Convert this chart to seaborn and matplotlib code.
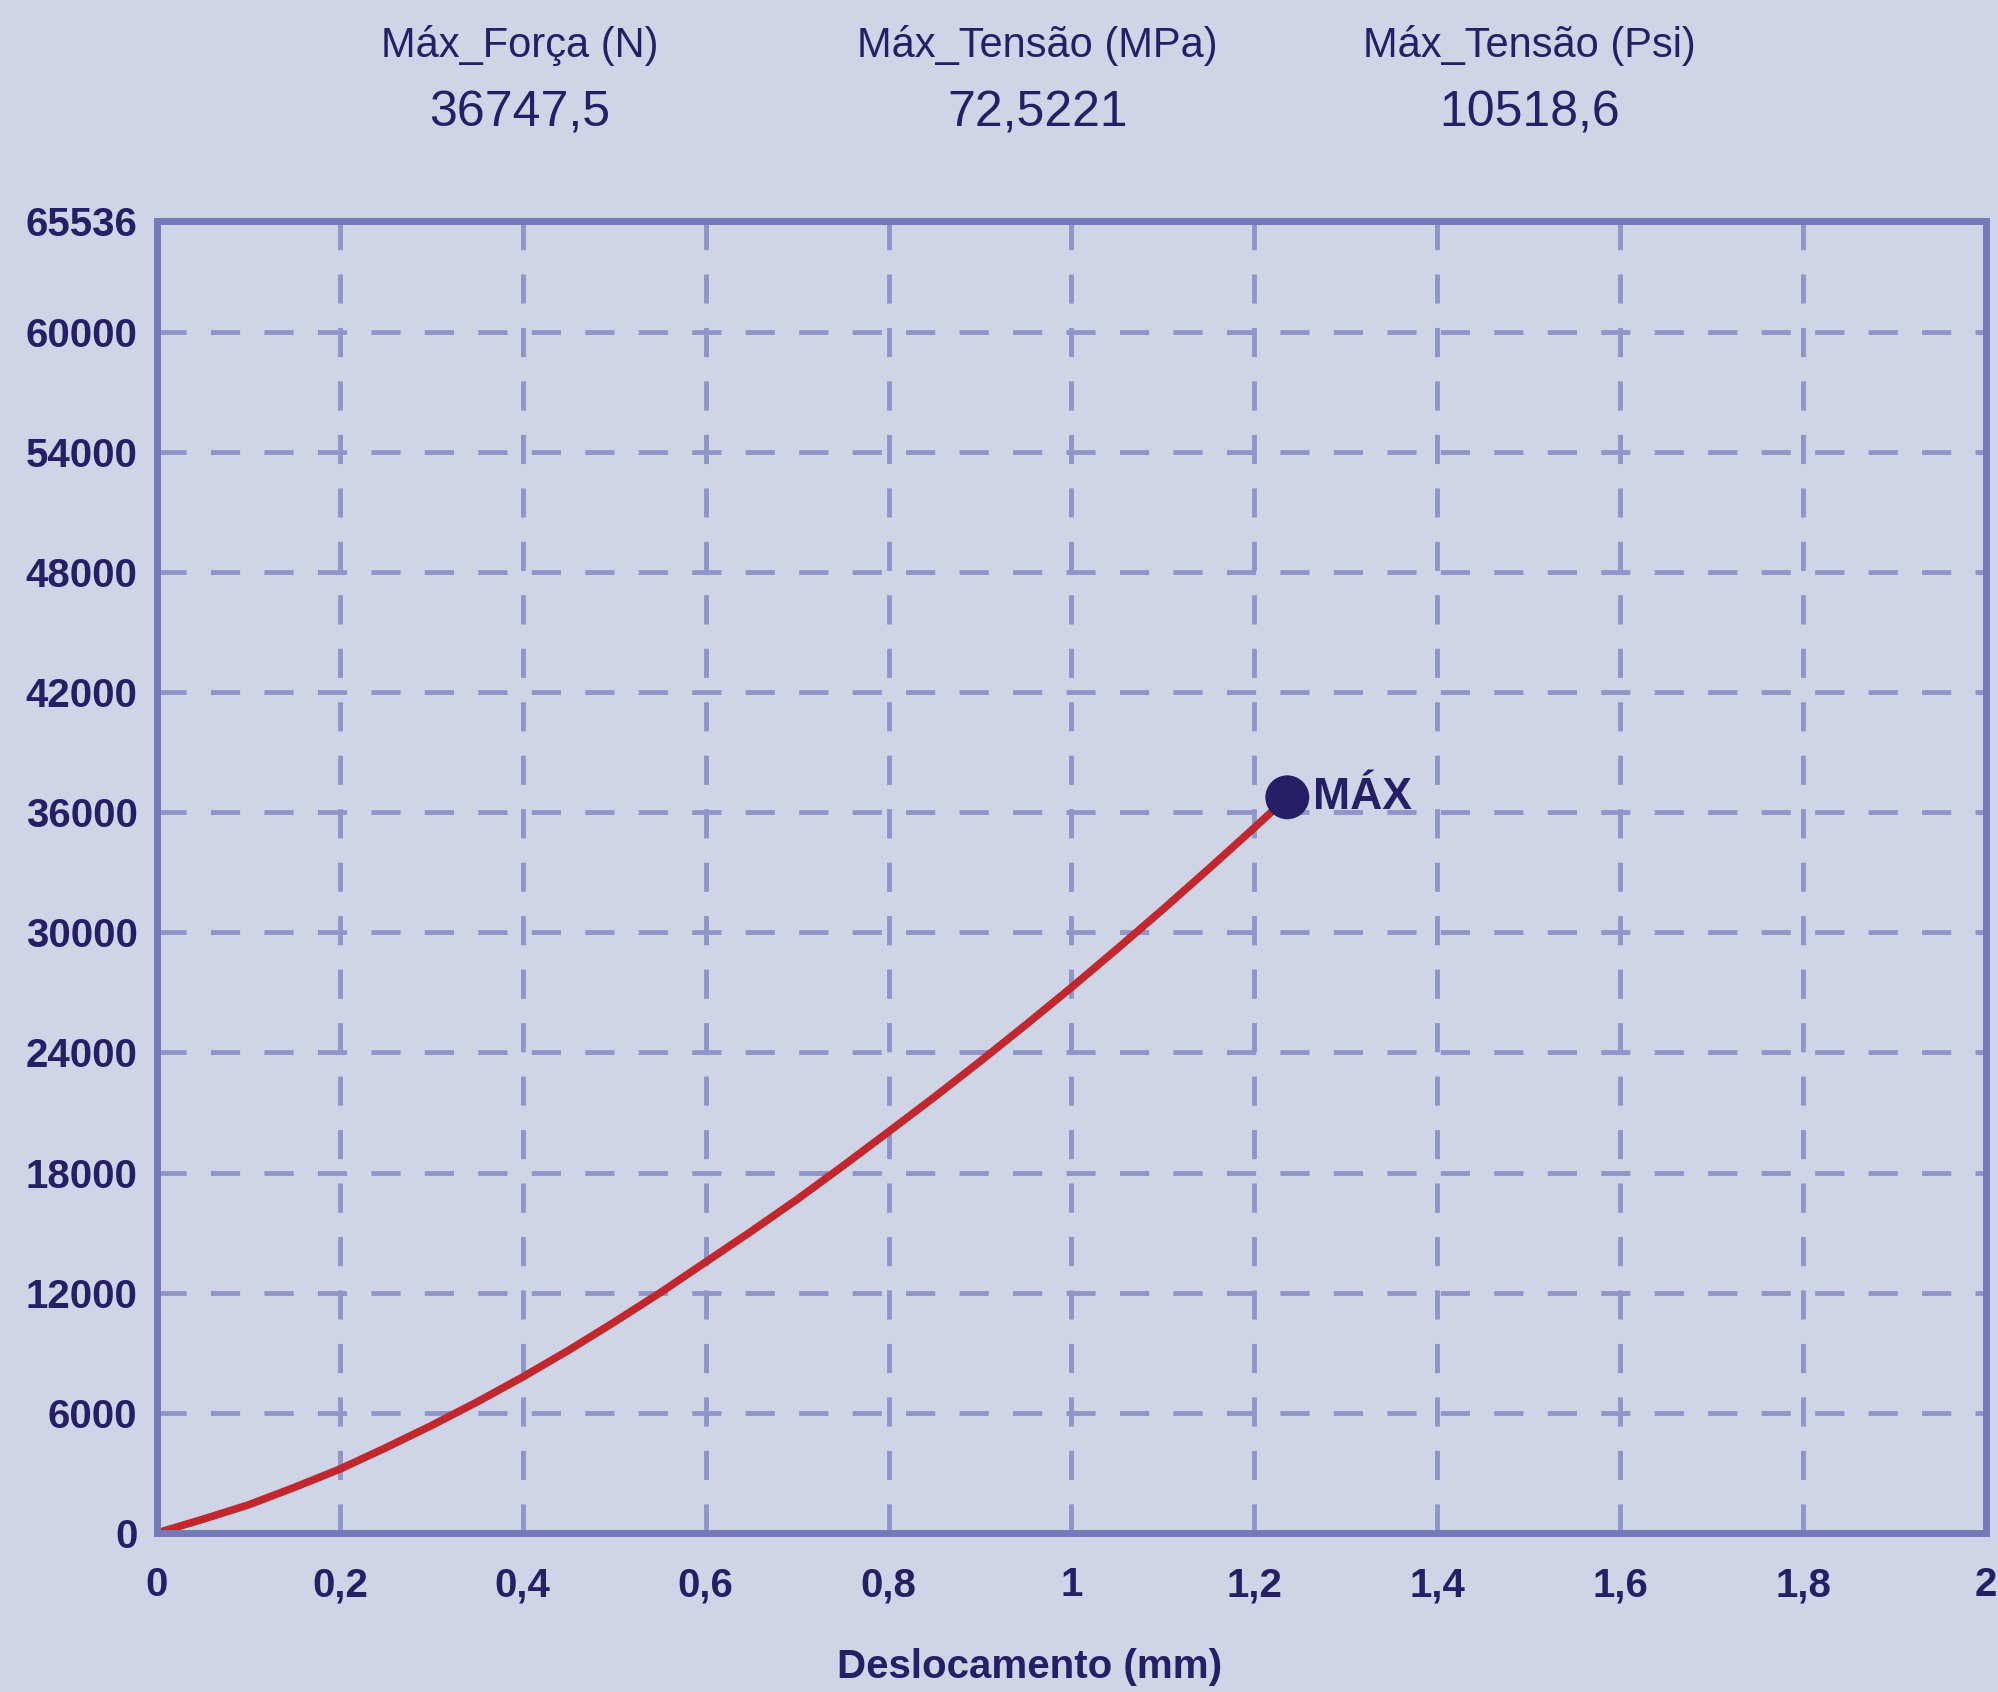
import numpy as np
import pandas as pd
import matplotlib
matplotlib.use("Agg")
import matplotlib.pyplot as plt
import seaborn as sns

# Curve (displacement mm, force N)
deslocamento = [0.0, 0.05, 0.1, 0.15, 0.2, 0.25, 0.3, 0.35, 0.4, 0.45, 0.5, 0.55, 0.6,
                0.65, 0.7, 0.75, 0.8, 0.85, 0.9, 0.95, 1.0, 1.05, 1.1, 1.15, 1.2, 1.236]
forca = [0, 680, 1400, 2270, 3190, 4250, 5360, 6540, 7790, 9120, 10530, 11990, 13530,
         15070, 16660, 18330, 20040, 21770, 23550, 25380, 27250, 29180, 31150, 33170, 35230, 36747.5]

max_x = 1.236
max_y = 36747.5

header_titles = ["Máx_Força (N)", "Máx_Tensão (MPa)", "Máx_Tensão (Psi)"]
header_values = ["36747,5", "72,5221", "10518,6"]

y_ticks = [0, 6000, 12000, 18000, 24000, 30000, 36000, 42000, 48000, 54000, 60000, 65536]
x_ticks = [0, 0.2, 0.4, 0.6, 0.8, 1.0, 1.2, 1.4, 1.6, 1.8, 2.0]
x_labels = ["0", "0,2", "0,4", "0,6", "0,8", "1", "1,2", "1,4", "1,6", "1,8", "2"]

bg = "#CFD4E6"
navy = "#271F66"
spine_col = "#7479B8"
grid_col = "#8F95C8"
red = "#C1272D"

sns.set_theme(style="white")
plt.rcParams["font.family"] = ["Liberation Sans Narrow", "Liberation Sans", "DejaVu Sans"]

df = pd.DataFrame({"x": deslocamento, "y": forca})

fig = plt.figure(figsize=(19.99, 16.92), dpi=100, facecolor=bg)
ax = fig.add_axes([0.0785, 0.094, 0.915, 0.7754])
ax.set_facecolor(bg)

sns.lineplot(data=df, x="x", y="y", ax=ax, color=red, linewidth=5.5, zorder=3)
sns.scatterplot(x=[max_x], y=[max_y], ax=ax, color=navy, s=1000, edgecolor="none", zorder=4)
ax.text(max_x + 0.028, max_y, "MÁX", color=navy, fontsize=32, fontweight="bold",
        va="center", ha="left")

ax.set_xlim(0, 2)
ax.set_ylim(0, 65536)
ax.set_xticks(x_ticks)
ax.set_xticklabels(x_labels)
ax.set_yticks(y_ticks)
ax.set_yticklabels([str(v) for v in y_ticks])
ax.tick_params(length=0, labelsize=29, labelcolor=navy)
ax.tick_params(axis="x", pad=24)
ax.tick_params(axis="y", pad=14)
for lab in ax.get_xticklabels() + ax.get_yticklabels():
    lab.set_fontweight("bold")

ax.grid(True, color=grid_col, linestyle=(0, (6, 5)), linewidth=3.5)
ax.set_axisbelow(True)
for s in ax.spines.values():
    s.set_visible(True)
    s.set_color(spine_col)
    s.set_linewidth(5)
    s.set_zorder(5)

ax.set_xlabel("Deslocamento (mm)", color=navy, fontsize=29, fontweight="bold")
ax.xaxis.set_label_coords(0.477, -0.088)
ax.set_ylabel("")

# header with max values
header_x = [0.26, 0.519, 0.765]
for hx, t, v in zip(header_x, header_titles, header_values):
    fig.text(hx, 0.973, t, color=navy, fontsize=30, ha="center", va="center")
    fig.text(hx, 0.933, v, color=navy, fontsize=36, ha="center", va="center")

fig.savefig("out.png", dpi=100, facecolor=bg)
